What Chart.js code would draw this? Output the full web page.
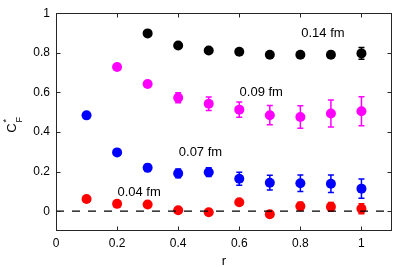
<!DOCTYPE html>
<html>
<head>
<meta charset="utf-8">
<script src="https://cdn.jsdelivr.net/npm/chart.js@4/dist/chart.umd.min.js"></script>
<style>
  html, body { margin: 0; padding: 0; background: #fff; }
  canvas { display: block; }
</style>
</head>
<body>
<canvas id="c" width="397" height="267"></canvas>
<script>
// ---- data ----
const xTicks = [0, 0.2, 0.4, 0.6, 0.8, 1];
const yTicks = [0, 0.2, 0.4, 0.6, 0.8, 1];

const r014 = [0.3, 0.4, 0.5, 0.6, 0.7, 0.8, 0.9, 1.0];
const c014 = [0.898, 0.837, 0.812, 0.805, 0.790, 0.790, 0.790, 0.797];
const e014 = [0.006, 0.008, 0.008, 0.010, 0.010, 0.012, 0.016, 0.030];

const r009 = [0.2, 0.3, 0.4, 0.5, 0.6, 0.7, 0.8, 0.9, 1.0];
const c009 = [0.728, 0.642, 0.573, 0.543, 0.513, 0.485, 0.476, 0.493, 0.505];
const e009 = [0.006, 0.015, 0.025, 0.034, 0.039, 0.049, 0.057, 0.068, 0.073];

const r007 = [0.1, 0.2, 0.3, 0.4, 0.5, 0.6, 0.7, 0.8, 0.9, 1.0];
const c007 = [0.484, 0.297, 0.219, 0.191, 0.197, 0.164, 0.144, 0.141, 0.139, 0.114];
const e007 = [0.004, 0.008, 0.018, 0.022, 0.022, 0.033, 0.037, 0.042, 0.044, 0.048];

const r004 = [0.1, 0.2, 0.3, 0.4, 0.5, 0.6, 0.7, 0.8, 0.9, 1.0];
const c004 = [0.062, 0.037, 0.034, 0.005, -0.005, 0.045, -0.015, 0.025, 0.022, 0.012];
const e004 = [0.004, 0.005, 0.006, 0.007, 0.008, 0.010, 0.015, 0.020, 0.022, 0.025];

const seriesNames = ['0.14 fm', '0.09 fm', '0.07 fm', '0.04 fm'];
const labelX = [0.803, 0.601, 0.402, 0.201];
const labelY = [0.897, 0.600, 0.298, 0.096];

const zeroX = [0, 1.1];
const zeroY = [0, 0];

// ---- build datasets ----
const pts = (xs, ys) => xs.map((x, i) => ({ x: x, y: ys[i] }));
const colors = ['#000000', '#ff00ff', '#0000ff', '#ff0000'];
const rs = [r014, r009, r007, r004];
const cs = [c014, c009, c007, c004];
const es = [e014, e009, e007, e004];

const datasets = rs.map((xs, k) => ({
  type: 'scatter',
  label: seriesNames[k],
  data: pts(xs, cs[k]),
  errors: es[k],
  backgroundColor: colors[k],
  borderColor: colors[k],
  borderWidth: 0,
  pointRadius: 5,
  pointHoverRadius: 5
}));
datasets.unshift({
  type: 'line',
  label: 'zero',
  data: pts(zeroX, zeroY),
  borderColor: '#000000',
  borderWidth: 1.3,
  borderDash: [8, 8],
  pointRadius: 0,
  fill: false
});

const FONT = "'Liberation Sans', Arial, Helvetica, sans-serif";

const errorBars = {
  id: 'errorBars',
  beforeDatasetsDraw(chart) {
    const ctx = chart.ctx;
    const xs = chart.scales.x, ys = chart.scales.y;
    ctx.save();
    chart.data.datasets.forEach(ds => {
      if (!ds.errors) return;
      ctx.strokeStyle = ds.borderColor;
      ctx.lineWidth = 1.5;
      ds.data.forEach((p, i) => {
        const e = ds.errors[i];
        const px = xs.getPixelForValue(p.x);
        const y1 = ys.getPixelForValue(p.y + e);
        const y2 = ys.getPixelForValue(p.y - e);
        ctx.beginPath();
        ctx.moveTo(px, y1); ctx.lineTo(px, y2);
        ctx.moveTo(px - 3, y1); ctx.lineTo(px + 3, y1);
        ctx.moveTo(px - 3, y2); ctx.lineTo(px + 3, y2);
        ctx.stroke();
      });
    });
    ctx.restore();
  }
};

const frame = {
  id: 'frame',
  afterDraw(chart) {
    const ctx = chart.ctx;
    const a = chart.chartArea;
    const xs = chart.scales.x, ys = chart.scales.y;
    ctx.save();
    ctx.strokeStyle = '#262626';
    ctx.lineWidth = 1;
    const L = Math.round(a.left) + 0.5, R = Math.round(a.right) - 0.5;
    const T = Math.round(a.top) + 0.5, B = Math.round(a.bottom) - 0.5;
    ctx.strokeRect(L, T, R - L, B - T);
    ctx.beginPath();
    xTicks.forEach(v => {
      const px = Math.round(xs.getPixelForValue(v)) + 0.5;
      ctx.moveTo(px, B); ctx.lineTo(px, B - 4);
      ctx.moveTo(px, T); ctx.lineTo(px, T + 4);
    });
    yTicks.forEach(v => {
      const py = Math.round(ys.getPixelForValue(v)) + 0.5;
      ctx.moveTo(L, py); ctx.lineTo(L + 4, py);
      ctx.moveTo(R, py); ctx.lineTo(R - 4, py);
    });
    ctx.stroke();

    // series labels
    ctx.fillStyle = '#000';
    ctx.font = '13px ' + FONT;
    ctx.textAlign = 'left';
    ctx.textBaseline = 'middle';
    seriesNames.forEach((t, k) => {
      ctx.fillText(t, xs.getPixelForValue(labelX[k]), ys.getPixelForValue(labelY[k]));
    });

    // x title
    ctx.textAlign = 'center';
    ctx.textBaseline = 'alphabetic';
    ctx.font = '13px ' + FONT;
    ctx.fillText('r', 224, 265);

    // y title C*_F rotated
    ctx.translate(12, 128);
    ctx.rotate(-Math.PI / 2);
    ctx.textAlign = 'center';
    ctx.textBaseline = 'middle';
    ctx.font = '13px ' + FONT;
    ctx.fillText('C', 0, 0);
    ctx.textAlign = 'left';
    ctx.font = '9px ' + FONT;
    ctx.fillText('F', 5.5, 7.5);
    ctx.fillText('*', 5.5, -5);
    ctx.restore();
  }
};

const fmt = v => String(Math.round(v * 100) / 100);

new Chart(document.getElementById('c'), {
  data: { datasets: datasets },
  options: {
    responsive: false,
    animation: false,
    devicePixelRatio: 1,
    layout: { padding: { top: 12, right: 5, left: 0, bottom: 0 } },
    plugins: { legend: { display: false }, tooltip: { enabled: false } },
    scales: {
      x: {
        type: 'linear', min: 0, max: 1.1,
        afterBuildTicks: s => { s.ticks = xTicks.map(v => ({ value: v })); },
        afterFit: s => { s.height = 36; },
        grid: { display: false, drawTicks: false },
        border: { display: false },
        ticks: { color: '#000', padding: 5, font: { family: FONT, size: 12 }, callback: fmt, maxRotation: 0 }
      },
      y: {
        type: 'linear', min: -0.1, max: 1,
        afterBuildTicks: s => { s.ticks = yTicks.map(v => ({ value: v })); },
        afterFit: s => { s.width = 56; },
        grid: { display: false, drawTicks: false },
        border: { display: false },
        ticks: { color: '#000', padding: 6, font: { family: FONT, size: 12 }, callback: fmt }
      }
    }
  },
  plugins: [errorBars, frame]
});
</script>
</body>
</html>
